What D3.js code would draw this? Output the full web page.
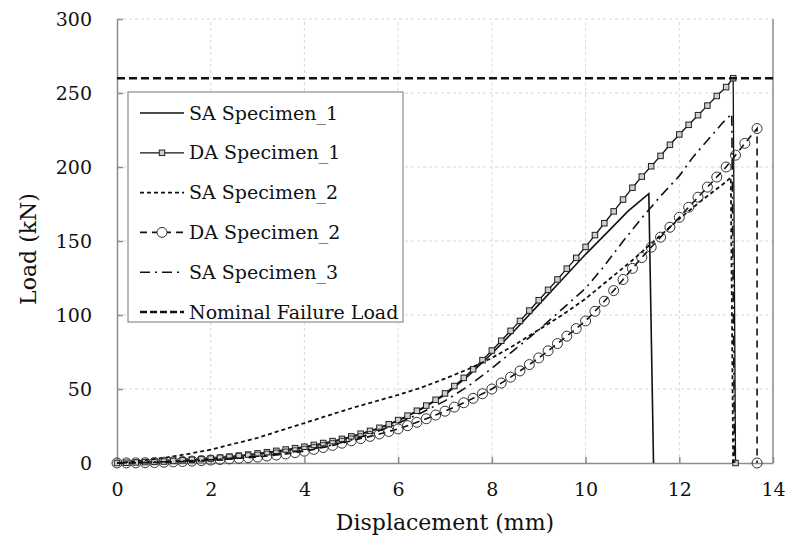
<!DOCTYPE html>
<html>
<head>
<meta charset="utf-8">
<script src="https://cdn.jsdelivr.net/npm/d3@7"></script>
<style>
  body { margin: 0; background: #fff; }
  svg text { font-family: "DejaVu Serif", "Liberation Serif", serif; fill: #111; }
</style>
</head>
<body>
<svg id="chart" width="787" height="549"></svg>
<script>
// load-displacement readings [mm, kN]
const saSpecimen1 = [
  [0, 0], [0.5, 0.4], [1, 1], [1.5, 1.8], [2, 2.8], [2.5, 4.2], [3, 6], [3.5, 8],
  [4, 10.5], [4.5, 13.5], [5, 17.5], [5.5, 22.5], [6, 28.5], [6.5, 36.5], [7, 46],
  [7.5, 59], [8, 74], [8.5, 90], [9, 107], [9.5, 124], [10, 141], [10.5, 157],
  [10.9, 170], [11.35, 182], [11.45, 0]
];
const daSpecimen1 = [
  [0, 0], [0.2, 0.2], [0.4, 0.4], [0.6, 0.6], [0.8, 0.8], [1.0, 1.0], [1.2, 1.4], [1.4, 1.8],
  [1.6, 2.2], [1.8, 2.6], [2.0, 3.0], [2.2, 3.6], [2.4, 4.3], [2.6, 5.0], [2.8, 5.7], [3.0, 6.5],
  [3.2, 7.3], [3.4, 8.2], [3.6, 9.1], [3.8, 10.0], [4.0, 11], [4.2, 12.2], [4.4, 13.5], [4.6, 14.8],
  [4.8, 16.3], [5.0, 18], [5.2, 19.8], [5.4, 21.7], [5.6, 23.8], [5.8, 26.2], [6.0, 29], [6.2, 32],
  [6.4, 35.3], [6.6, 38.8], [6.8, 42.7], [7.0, 47], [7.2, 52], [7.4, 57.5], [7.6, 63.3], [7.8, 69.5],
  [8.0, 76], [8.2, 82.6], [8.4, 89.3], [8.6, 96], [8.8, 103], [9.0, 110], [9.2, 117], [9.4, 124],
  [9.6, 131.3], [9.8, 138.6], [10.0, 146], [10.2, 154], [10.4, 162], [10.6, 170], [10.8, 178], [11.0, 186],
  [11.2, 193.5], [11.4, 200.5], [11.6, 207.5], [11.8, 215], [12.0, 222], [12.2, 228.5], [12.4, 235],
  [12.6, 241.5], [12.8, 248], [13.0, 254], [13.15, 260], [13.2, 0]
];
const saSpecimen2 = [
  [0, 0], [0.5, 1.5], [1, 3.5], [1.5, 6], [2, 9], [2.5, 13], [3, 17], [3.5, 22], [4, 27],
  [4.5, 32], [5, 37], [5.5, 41.5], [6, 46], [6.5, 51], [7, 57], [7.5, 63.5], [8, 71], [8.5, 80],
  [9, 90], [9.5, 100], [10, 111], [10.5, 124], [11, 137], [11.5, 151], [12, 165], [12.5, 178],
  [13, 190], [13.1, 193], [13.15, 0]
];
const daSpecimen2 = [
  [0, 0], [0.2, 0.05], [0.4, 0.1], [0.6, 0.2], [0.8, 0.35], [1.0, 0.5], [1.2, 0.75], [1.4, 1.0],
  [1.6, 1.3], [1.8, 1.6], [2.0, 2.0], [2.2, 2.4], [2.4, 2.8], [2.6, 3.2], [2.8, 3.6], [3.0, 4.0],
  [3.2, 4.7], [3.4, 5.4], [3.6, 6.1], [3.8, 7.0], [4.0, 8.0], [4.2, 9.2], [4.4, 10.5], [4.6, 11.9],
  [4.8, 13.4], [5.0, 15], [5.2, 16.5], [5.4, 18], [5.6, 19.6], [5.8, 21.3], [6.0, 23], [6.2, 25.2],
  [6.4, 27.5], [6.6, 29.9], [6.8, 32.4], [7.0, 35], [7.2, 37.8], [7.4, 40.7], [7.6, 43.7], [7.8, 46.8],
  [8.0, 50], [8.2, 54], [8.4, 58], [8.6, 62.2], [8.8, 66.5], [9.0, 71], [9.2, 75.8], [9.4, 80.7],
  [9.6, 85.7], [9.8, 90.8], [10.0, 96], [10.2, 102.5], [10.4, 109.3], [10.6, 116.5], [10.8, 124],
  [11.0, 131.5], [11.2, 138.8], [11.4, 145.8], [11.6, 152.6], [11.8, 159.3], [12.0, 166], [12.2, 172.8],
  [12.4, 179.6], [12.6, 186.4], [12.8, 193.2], [13.0, 200], [13.2, 208], [13.4, 216], [13.66, 226],
  [13.66, 0]
];
const saSpecimen3 = [
  [0, 0], [0.5, 0.3], [1, 0.8], [1.5, 1.4], [2, 2.2], [2.5, 3.3], [3, 4.6], [3.5, 6.3], [4, 8.5],
  [4.5, 11.5], [5, 15.5], [5.5, 20.5], [6, 27], [6.5, 34], [7, 42], [7.5, 52], [8, 64], [8.5, 77],
  [9, 90], [9.5, 104], [10, 118], [10.37, 132], [10.78, 149], [11.16, 164], [11.59, 180], [12, 194],
  [12.3, 207], [12.93, 230], [13.12, 236], [13.18, 0]
];
const nominalLoad = 260;

const xTicks = [0, 2, 4, 6, 8, 10, 12, 14];
const yTicks = [0, 50, 100, 150, 200, 250, 300];
const legendLabels = ["SA Specimen_1", "DA Specimen_1", "SA Specimen_2", "DA Specimen_2", "SA Specimen_3", "Nominal Failure Load"];

const svg = d3.select("#chart");
const x = d3.scaleLinear().domain([0, 14]).range([117, 773]);
const y = d3.scaleLinear().domain([0, 300]).range([463, 19]);

// grid
const grid = svg.append("g");
grid.selectAll(".gx").data(xTicks.slice(1, -1)).join("line")
  .attr("x1", d => x(d)).attr("x2", d => x(d)).attr("y1", y(0)).attr("y2", y(300))
  .attr("stroke", "#d9d9d9").attr("stroke-dasharray", "3,3");
grid.selectAll(".gy").data(yTicks.slice(1)).join("line")
  .attr("x1", x(0)).attr("x2", x(14)).attr("y1", d => y(d)).attr("y2", d => y(d))
  .attr("stroke", "#d9d9d9").attr("stroke-dasharray", "3,3");

// frame
svg.append("line").attr("x1", x(14)).attr("x2", x(14)).attr("y1", y(0)).attr("y2", y(300))
  .attr("stroke", "#8c8c8c").attr("stroke-width", 1.5);

const xAxis = svg.append("g").attr("transform", `translate(0,${y(0)})`)
  .call(d3.axisBottom(x).tickValues(xTicks).tickSizeInner(-6).tickSizeOuter(0).tickPadding(20));
const yAxis = svg.append("g").attr("transform", `translate(${x(0)},0)`)
  .call(d3.axisLeft(y).tickValues(yTicks).tickSizeInner(-6).tickSizeOuter(0).tickPadding(25));
[xAxis, yAxis].forEach(a => {
  a.select(".domain").attr("stroke", "#8c8c8c").attr("stroke-width", 1.5);
  a.selectAll(".tick line").attr("stroke", "#8c8c8c").attr("stroke-width", 1.5);
  a.selectAll(".tick text").attr("font-size", 19).attr("font-family", "DejaVu Serif").attr("fill", "#111");
});
xAxis.selectAll(".tick text").attr("dy", "0.71em");

svg.append("text").attr("x", (x(0) + x(14)) / 2).attr("y", 530)
  .attr("text-anchor", "middle").attr("font-size", 22).text("Displacement (mm)");
svg.append("text").attr("transform", `translate(36,${(y(0) + y(300)) / 2 + 8}) rotate(-90)`)
  .attr("text-anchor", "middle").attr("font-size", 22).text("Load (kN)");

const line = d3.line().x(d => x(d[0])).y(d => y(d[1]));
const styles = [
  { data: saSpecimen1, dash: null, w: 1.6 },
  { data: daSpecimen1, dash: null, w: 1.3, marker: "square" },
  { data: saSpecimen2, dash: "4,3", w: 1.8 },
  { data: daSpecimen2, dash: "7,5", w: 1.6, marker: "circle" },
  { data: saSpecimen3, dash: "10,5,2,5", w: 1.6 },
];

const plot = svg.append("g");
styles.forEach(s => {
  plot.append("path").datum(s.data).attr("d", line)
    .attr("fill", "none").attr("stroke", "#111").attr("stroke-width", s.w)
    .attr("stroke-dasharray", s.dash);
  if (s.marker === "square") {
    plot.append("g").selectAll("rect").data(s.data).join("rect")
      .attr("x", d => x(d[0]) - 2.75).attr("y", d => y(d[1]) - 2.75)
      .attr("width", 5.5).attr("height", 5.5)
      .attr("fill", "#cfcfcf").attr("stroke", "#222").attr("stroke-width", 1);
  } else if (s.marker === "circle") {
    plot.append("g").selectAll("circle").data(s.data).join("circle")
      .attr("cx", d => x(d[0])).attr("cy", d => y(d[1])).attr("r", 5)
      .attr("fill", "none").attr("stroke", "#333").attr("stroke-width", 1);
  }
});

// nominal failure load
plot.append("line").attr("x1", x(0)).attr("x2", x(14)).attr("y1", y(nominalLoad)).attr("y2", y(nominalLoad))
  .attr("stroke", "#111").attr("stroke-width", 2.6).attr("stroke-dasharray", "8,4");

// legend
const lg = svg.append("g");
lg.append("rect").attr("x", 128).attr("y", 92).attr("width", 275).attr("height", 230)
  .attr("fill", "#fff").attr("stroke", "#8c8c8c").attr("stroke-width", 1.2);
const legendStyle = styles.concat([{ dash: "7,3", w: 2.6 }]);
legendLabels.forEach((lab, i) => {
  const cy = 113 + i * 39.8;
  const s = legendStyle[i];
  lg.append("line").attr("x1", 140).attr("x2", 184).attr("y1", cy).attr("y2", cy)
    .attr("stroke", "#111").attr("stroke-width", s.w).attr("stroke-dasharray", s.dash);
  if (s.marker === "square") {
    lg.append("rect").attr("x", 159.25).attr("y", cy - 2.75).attr("width", 5.5).attr("height", 5.5)
      .attr("fill", "#cfcfcf").attr("stroke", "#222");
  } else if (s.marker === "circle") {
    lg.append("circle").attr("cx", 162).attr("cy", cy).attr("r", 5)
      .attr("fill", "#fff").attr("stroke", "#333");
  }
  lg.append("text").attr("x", 189).attr("y", cy).attr("dy", "0.35em")
    .attr("font-size", 19).text(lab);
});
</script>
</body>
</html>
